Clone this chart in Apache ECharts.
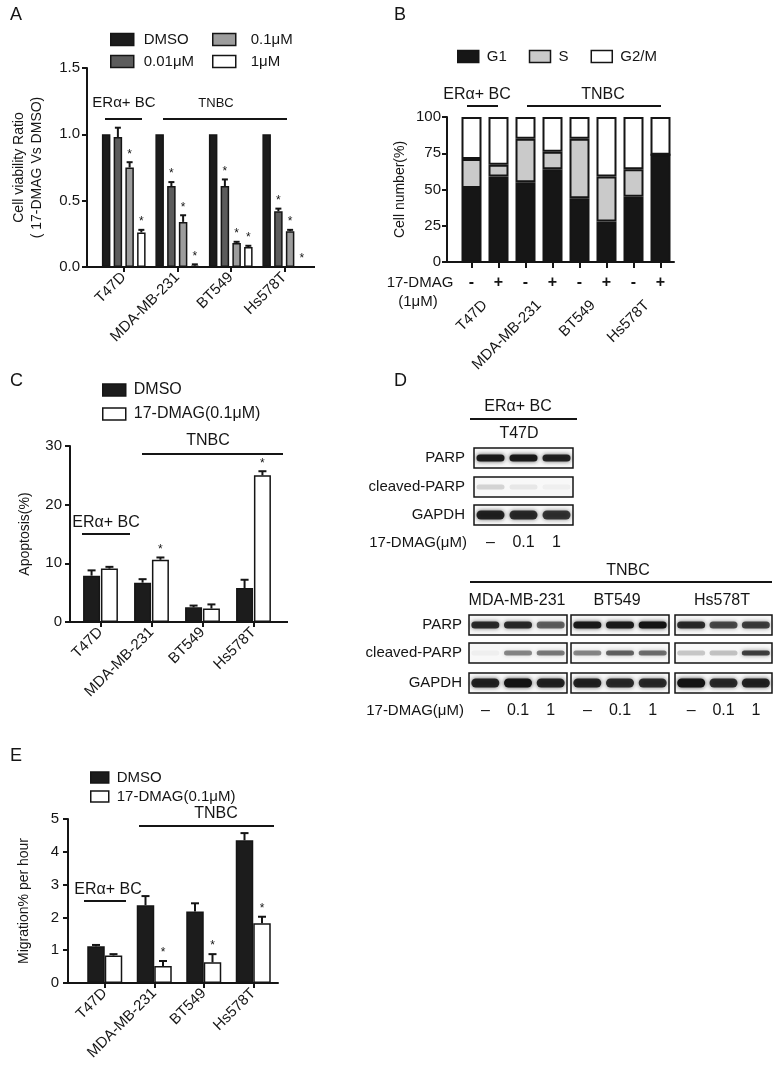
<!DOCTYPE html>
<html><head><meta charset="utf-8">
<script src="https://cdn.jsdelivr.net/npm/echarts@6/dist/echarts.min.js"></script>
<style>html,body{margin:0;padding:0;background:#fff}#c{width:780px;height:1079px}</style>
</head><body><div id="c"></div>
<script>
const FONT = '"Liberation Sans", Arial, sans-serif';
const INK = '#151515';

// ---------------- DATA ----------------
const cellLines = ['T47D', 'MDA-MB-231', 'BT549', 'Hs578T'];

// Panel A – cell viability ratio
const aNames = ['DMSO', '0.01μM', '0.1μM', '1μM'];
const aDMSO = [1.0, 1.0, 1.0, 1.0];
const a001 = [0.98, 0.61, 0.61, 0.42];
const a01 = [0.75, 0.34, 0.18, 0.27];
const a1 = [0.26, 0.01, 0.15, 0.0];
const a001Err = [0.07, 0.03, 0.05, 0.02];
const a01Err = [0.04, 0.05, 0.01, 0.01];
const a1Err = [0.02, 0.01, 0.01, 0.0];
const a001Star = [0, 1, 1, 1];
const a01Star = [1, 1, 1, 1];
const a1Star = [1, 1, 1, 1];
const aTickLabels = ['0.0', '0.5', '1.0', '1.5'];

// Panel B – cell cycle
const bCats = ['T47D -', 'T47D +', 'MDA-MB-231 -', 'MDA-MB-231 +', 'BT549 -', 'BT549 +', 'Hs578T -', 'Hs578T +'];
const bTreat = ['-', '+', '-', '+', '-', '+', '-', '+'];
const bPhases = ['G1', 'S', 'G2/M'];
const bG1 = [51, 59, 55, 64, 44, 28, 45, 74];
const bS = [20, 8, 30, 12, 41, 31, 19, 0];
const bG2M = [29, 33, 15, 24, 15, 41, 36, 26];

// Panel C – apoptosis
const cNames = ['DMSO', '17-DMAG(0.1μM)'];
const cDMSO = [7.9, 6.7, 2.5, 5.8];
const cDMSOErr = [0.9, 0.6, 0.3, 1.4];
const cDrug = [9.1, 10.6, 2.3, 25.0];
const cDrugErr = [0.3, 0.4, 0.7, 0.7];
const cStar = [0, 1, 0, 1];

// Panel E – migration
const eDMSO = [1.12, 2.37, 2.18, 4.35];
const eDMSOErr = [0.04, 0.28, 0.25, 0.22];
const eDrug = [0.84, 0.52, 0.63, 1.82];
const eDrugErr = [0.04, 0.15, 0.25, 0.20];
const eStar = [0, 1, 1, 1];

// Panel D – western blot band intensities (T47D, MDA-MB-231, BT549, Hs578T) x doses
const blotRowNames = ['PARP', 'cleaved-PARP', 'GAPDH', '17-DMAG(μM)'];
const blotDoses = ['–', '0.1', '1'];
const bandPARP = [[0.95, 0.95, 0.9], [0.85, 0.85, 0.6], [0.95, 0.95, 1.0], [0.85, 0.7, 0.75]];
const bandCleaved = [[0.15, 0.07, 0.04], [0.04, 0.45, 0.5], [0.45, 0.6, 0.55], [0.2, 0.22, 0.75]];
const bandGAPDH = [[0.9, 0.85, 0.8], [0.9, 1.0, 0.9], [0.9, 0.85, 0.85], [1.0, 0.85, 0.9]];

// ---------------- HELPERS ----------------
const axisLine = { show: true, onZero: false, lineStyle: { color: INK, width: 2 } };
const axisTick = { show: true, length: 5, alignWithLabel: true, lineStyle: { color: INK, width: 2 } };
const lbl = (o) => Object.assign({ color: INK, fontFamily: FONT, fontSize: 15 }, o);

function errSeries(xi, yi, k, n, barW, gap, vals, errs, stars, capW) {
  return {
    type: 'custom', xAxisIndex: xi, yAxisIndex: yi, z: 5, silent: true,
    data: vals.map((v, i) => [i, v, errs[i], stars[i]]),
    encode: { x: 0, y: 1 },
    renderItem(params, api) {
      const i = api.value(0), v = api.value(1), e = api.value(2), s = api.value(3);
      const p0 = api.coord([i, v]), p1 = api.coord([i, v + e]);
      const cx = p0[0] + (k - (n - 1) / 2) * barW * (1 + gap);
      const ch = [];
      if (e > 0) {
        ch.push({ type: 'line', shape: { x1: cx, y1: p0[1], x2: cx, y2: p1[1] }, style: { stroke: INK, lineWidth: 2 } });
        ch.push({ type: 'line', shape: { x1: cx - capW / 2, y1: p1[1], x2: cx + capW / 2, y2: p1[1] }, style: { stroke: INK, lineWidth: 2 } });
      }
      if (s) ch.push({ type: 'text', style: { text: '*', x: cx, y: p1[1] - 2, align: 'center', verticalAlign: 'bottom', fill: INK, fontSize: 12, fontFamily: FONT } });
      return { type: 'group', children: ch };
    }
  };
}
function barSeries(name, xi, yi, data, color, barW, gap, extra) {
  return Object.assign({
    type: 'bar', name, xAxisIndex: xi, yAxisIndex: yi, data, barWidth: barW, barGap: (gap * 100) + '%',
    itemStyle: { color, borderColor: INK, borderWidth: 1.5 }, silent: true
  }, extra || {});
}

const G = [];
function T(text, x, y, size, align, extra) {
  G.push({ type: 'text', x, y, style: Object.assign({ text, fill: INK, fontSize: size, fontFamily: FONT, align: align || 'center', textAlign: align || 'center', verticalAlign: 'middle', textVerticalAlign: 'middle' }, extra || {}) });
}
function L(x1, y1, x2, y2, w) {
  G.push({ type: 'line', shape: { x1, y1, x2, y2 }, style: { stroke: INK, lineWidth: w || 2 } });
}

// panel letters
T('A', 10, 15, 18, 'left'); T('B', 394, 15, 18, 'left'); T('C', 10, 381, 18, 'left');
T('D', 394, 381, 18, 'left'); T('E', 10, 756, 18, 'left');

// A annotations
T('ERα+ BC', 124, 103, 15); L(105, 119, 142, 119);
T('TNBC', 216, 103, 13); L(163, 119, 287, 119);
L(86, 267, 98, 267); L(310, 267, 315, 267);
// B annotations
T('ERα+ BC', 477, 95, 16); L(467, 106, 498, 106);
T('TNBC', 603, 95, 16); L(527, 106, 661, 106);
T('17-DMAG', 420, 283, 15); T('(1μM)', 418, 302, 15);
L(446, 262, 459, 262);
// C annotations
T('ERα+ BC', 106, 523, 16); L(82, 534, 130, 534);
T('TNBC', 208, 441, 16); L(142, 454, 283, 454);
L(69, 622, 76, 622); L(278, 622, 288, 622);
// E annotations
T('ERα+ BC', 108, 890, 16); L(84, 901, 126, 901);
T('TNBC', 216, 814, 16); L(139, 826, 274, 826);
L(67, 983, 81, 983);

// D blots
function blot(idx, bx, bw, rowYs, rowH) {
  const bands = [bandPARP[idx], bandCleaved[idx], bandGAPDH[idx]];
  const bh = [7, 5, 9];
  rowYs.forEach((ry, r) => {
    G.push({ type: 'rect', shape: { x: bx, y: ry, width: bw, height: rowH }, style: { fill: '#f8f8f8', stroke: INK, lineWidth: 1.5 } });
    bands[r].forEach((I, l) => {
      const cx = bx + bw * (2 * l + 1) / 6;
      G.push({ type: 'rect', shape: { x: cx - 14, y: ry + rowH / 2 - bh[r] / 2, width: 28, height: bh[r], r: bh[r] / 2 },
        style: { fill: 'rgba(20,20,20,' + I + ')', shadowBlur: 4, shadowColor: 'rgba(20,20,20,' + (I * 0.8) + ')' } });
    });
  });
  blotDoses.forEach((d, l) => T(d, bx + bw * (2 * l + 1) / 6, rowYs[2] + rowH + 18, 16));
}
function blotLabels(rowYs, rowH, rightX) {
  rowYs.forEach((ry, r) => T(blotRowNames[r], rightX, ry + rowH / 2, 15, 'right'));
  T(blotRowNames[3], rightX + 2, rowYs[2] + rowH + 18, 15, 'right');
}
T('ERα+ BC', 518, 407, 16); L(470, 419, 577, 419); T('T47D', 519, 434, 16);
blot(0, 474, 99, [448, 477, 505], 20);
blotLabels([448, 477, 505], 20, 465);
T('TNBC', 628, 571, 16); L(470, 582, 772, 582);
T('MDA-MB-231', 517, 601, 16); T('BT549', 617, 601, 16); T('Hs578T', 722, 601, 16);
blot(1, 469, 98, [615, 643, 673], 20);
blot(2, 571, 98, [615, 643, 673], 20);
blot(3, 675, 97, [615, 643, 673], 20);
blotLabels([615, 643, 673], 20, 462);

// ---------------- OPTION ----------------
const legendBase = { orient: 'vertical', padding: 0, icon: 'rect', selectedMode: false,
  itemStyle: { borderColor: INK, borderWidth: 1.5 } };

const option = {
  animation: false,
  backgroundColor: '#fff',
  textStyle: { fontFamily: FONT, color: INK },
  grid: [
    { left: 97, top: 68, width: 214, height: 199 },
    { left: 458, top: 117, width: 216, height: 145 },
    { left: 75, top: 446, width: 204, height: 176 },
    { left: 80, top: 819, width: 198, height: 164 }
  ],
  legend: [
    Object.assign({}, legendBase, { left: 110, top: 32, itemWidth: 23, itemHeight: 12, itemGap: 7, data: [aNames[0], aNames[1]], textStyle: lbl({ fontSize: 15, padding: [0, 0, 0, 5] }) }),
    Object.assign({}, legendBase, { left: 212, top: 32, itemWidth: 23, itemHeight: 12, itemGap: 7, data: [aNames[2], aNames[3]], textStyle: lbl({ fontSize: 15, padding: [0, 0, 0, 10] }) }),
    Object.assign({}, legendBase, { orient: 'horizontal', left: 457, top: 49, itemWidth: 21, itemHeight: 12, itemGap: 22, data: bPhases, textStyle: lbl({ fontSize: 15, padding: [0, 0, 0, 3] }) }),
    Object.assign({}, legendBase, { left: 102, top: 382, itemWidth: 23, itemHeight: 12, itemGap: 8, data: cNames, textStyle: lbl({ fontSize: 16, padding: [0, 0, 0, 3] }) }),
    Object.assign({}, legendBase, { left: 90, top: 770, itemWidth: 18, itemHeight: 11, itemGap: 4, data: cNames, textStyle: lbl({ fontSize: 15, padding: [0, 0, 0, 3] }) })
  ],
  xAxis: [
    { gridIndex: 0, type: 'category', data: cellLines, axisLine, axisTick, axisLabel: lbl({ rotate: 45, interval: 0, margin: 8 }) },
    { gridIndex: 1, type: 'category', data: bCats, axisLine, axisTick: Object.assign({}, axisTick, { length: 6 }), axisLabel: lbl({ interval: 0, margin: 13, fontSize: 16, fontWeight: 'bold', formatter: (v, i) => bTreat[i] }) },
    { gridIndex: 1, type: 'category', data: cellLines, position: 'bottom', offset: 32, axisLine: { show: false }, axisTick: { show: false }, axisLabel: lbl({ rotate: 45, interval: 0, margin: 9 }) },
    { gridIndex: 2, type: 'category', data: cellLines, axisLine, axisTick, axisLabel: lbl({ rotate: 45, interval: 0, margin: 8 }) },
    { gridIndex: 3, type: 'category', data: cellLines, axisLine, axisTick, axisLabel: lbl({ rotate: 45, interval: 0, margin: 8 }) }
  ],
  yAxis: [
    { gridIndex: 0, type: 'value', min: 0, max: 1.5, interval: 0.5, offset: 10, splitLine: { show: false }, axisLine, axisTick,
      axisLabel: lbl({ margin: 7, formatter: v => aTickLabels[Math.round(v / 0.5)] }),
      name: 'Cell viability Ratio\n( 17-DMAG Vs DMSO)', nameLocation: 'middle', nameGap: 41, nameRotate: 90,
      nameTextStyle: { fontSize: 14, lineHeight: 18, color: INK, fontFamily: FONT } },
    { gridIndex: 1, type: 'value', min: 0, max: 100, interval: 25, offset: 11, splitLine: { show: false }, axisLine, axisTick,
      axisLabel: lbl({ margin: 6 }), name: 'Cell number(%)', nameLocation: 'middle', nameGap: 40, nameRotate: 90,
      nameTextStyle: { fontSize: 14, color: INK, fontFamily: FONT } },
    { gridIndex: 2, type: 'value', min: 0, max: 30, interval: 10, offset: 5, splitLine: { show: false }, axisLine, axisTick,
      axisLabel: lbl({ margin: 8 }), name: 'Apoptosis(%)', nameLocation: 'middle', nameGap: 38, nameRotate: 90,
      nameTextStyle: { fontSize: 14, color: INK, fontFamily: FONT } },
    { gridIndex: 3, type: 'value', min: 0, max: 5, interval: 1, offset: 12, splitLine: { show: false }, axisLine, axisTick,
      axisLabel: lbl({ margin: 9 }), name: 'Migration% per hour', nameLocation: 'middle', nameGap: 37, nameRotate: 90,
      nameTextStyle: { fontSize: 14, color: INK, fontFamily: FONT } }
  ],
  series: [
    // A
    barSeries(aNames[0], 0, 0, aDMSO, '#1c1c1c', 8.5, 0.38),
    barSeries(aNames[1], 0, 0, a001, '#5c5c5c', 8.5, 0.38),
    barSeries(aNames[2], 0, 0, a01, '#9d9d9d', 8.5, 0.38),
    barSeries(aNames[3], 0, 0, a1, '#ffffff', 8.5, 0.38),
    errSeries(0, 0, 1, 4, 8.5, 0.38, a001, a001Err, a001Star, 6),
    errSeries(0, 0, 2, 4, 8.5, 0.38, a01, a01Err, a01Star, 6),
    errSeries(0, 0, 3, 4, 8.5, 0.38, a1, a1Err, a1Star, 6),
    // B
    barSeries(bPhases[0], 1, 1, bG1, '#161616', 20, 0, { stack: 'b', itemStyle: { color: '#161616', borderColor: INK, borderWidth: 2 } }),
    barSeries(bPhases[1], 1, 1, bS, '#cacaca', 20, 0, { stack: 'b', itemStyle: { color: '#cacaca', borderColor: INK, borderWidth: 2 } }),
    barSeries(bPhases[2], 1, 1, bG2M, '#ffffff', 20, 0, { stack: 'b', itemStyle: { color: '#ffffff', borderColor: INK, borderWidth: 2 } }),
    // C
    barSeries(cNames[0], 3, 2, cDMSO, '#1c1c1c', 17, 0.05),
    barSeries(cNames[1], 3, 2, cDrug, '#ffffff', 17, 0.05),
    errSeries(3, 2, 0, 2, 17, 0.05, cDMSO, cDMSOErr, [0, 0, 0, 0], 8),
    errSeries(3, 2, 1, 2, 17, 0.05, cDrug, cDrugErr, cStar, 8),
    // E
    barSeries(cNames[0], 4, 3, eDMSO, '#1c1c1c', 17.5, 0),
    barSeries(cNames[1], 4, 3, eDrug, '#ffffff', 17.5, 0),
    errSeries(4, 3, 0, 2, 17.5, 0, eDMSO, eDMSOErr, [0, 0, 0, 0], 8),
    errSeries(4, 3, 1, 2, 17.5, 0, eDrug, eDrugErr, eStar, 8)
  ],
  graphic: G
};

const chart = echarts.init(document.getElementById('c'), null, { renderer: 'canvas' });
chart.setOption(option);
</script>
</body></html>
